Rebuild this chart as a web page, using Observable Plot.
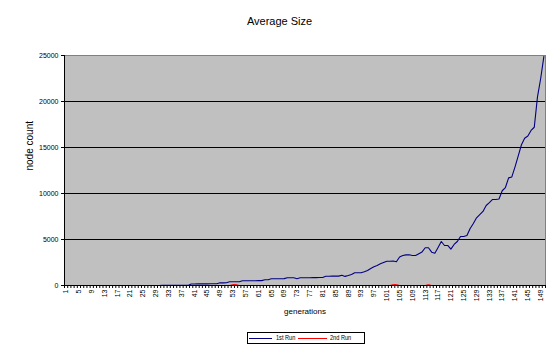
<!DOCTYPE html>
<html>
<head>
<meta charset="utf-8">
<script src="https://cdn.jsdelivr.net/npm/d3@7"></script>
<script src="https://cdn.jsdelivr.net/npm/@observablehq/plot@0.6"></script>
<style>
  html, body { margin: 0; padding: 0; background: #fff; }
  #wrap { position: relative; width: 559px; height: 355px; overflow: hidden; font-family: Arial, "Liberation Sans", sans-serif; }
  #title { position: absolute; left: 0; top: 15px; width: 559px; text-align: center; font-size: 11px; line-height: 12px; color: #000; }
  #legend { position: absolute; left: 247px; top: 332px; width: 116px; height: 10px; border: 1px solid #000; background: #fff; }
  #legend .sw { position: absolute; top: 4.5px; height: 1px; }
  #legend .lt { position: absolute; top: 0px; font-size: 7px; line-height: 10px; color: #000; white-space: nowrap; transform: scaleX(0.8); transform-origin: 0 50%; }
  #chart svg { display: block; }
</style>
</head>
<body>
<div id="wrap">
  <div id="chart"></div>
  <div id="title"></div>
  <div id="legend"></div>
</div>
<script>
// ---- data ----
const chartTitle = "Average Size";
const yLabel = "node count";
const xLabel = "generations";
const seriesNames = ["1st Run", "2nd Run"];
const seriesColors = ["#000080", "#ff0000"];

const generations = [
  1,2,3,4,5,6,7,8,9,10,11,12,13,14,15,16,17,18,19,20,
  21,22,23,24,25,26,27,28,29,30,31,32,33,34,35,36,37,38,39,40,
  41,42,43,44,45,46,47,48,49,50,51,52,53,54,55,56,57,58,59,60,
  61,62,63,64,65,66,67,68,69,70,71,72,73,74,75,76,77,78,79,80,
  81,82,83,84,85,86,87,88,89,90,91,92,93,94,95,96,97,98,99,100,
  101,102,103,104,105,106,107,108,109,110,111,112,113,114,115,116,117,118,119,120,
  121,122,123,124,125,126,127,128,129,130,131,132,133,134,135,136,137,138,139,140,
  141,142,143,144,145,146,147,148,149,150
];

const run1 = [
  2,2,3,3,3,3,4,4,4,4,5,5,5,5,5,6,6,6,6,6,
  7,7,7,7,7,8,8,8,8,8,9,9,9,9,10,10,10,10,12,170,
  170,175,175,180,180,185,185,190,290,290,300,400,400,410,410,510,510,515,520,520,
  525,530,620,630,730,730,735,740,745,840,840,845,740,840,845,850,850,855,860,865,
  870,1010,1010,1015,1020,1020,1120,990,1090,1200,1380,1380,1390,1490,1630,1850,2030,2170,2360,2500,
  2640,2640,2660,2580,3100,3260,3330,3340,3260,3260,3450,3650,4100,4100,3620,3510,4130,4780,4350,4350,
  3950,4460,4780,5330,5330,5440,6200,6740,7360,7700,8050,8700,9000,9350,9350,9400,10300,10650,11700,11800,
  12900,14100,15300,16000,16250,16850,17200,20500,22500,24900
];

const run2 = [
  0,0,0,0,0,0,0,0,0,0,0,0,0,0,0,0,0,0,0,0,
  0,0,0,0,0,0,0,0,0,0,0,0,0,0,0,0,0,0,0,0,
  0,0,0,0,0,0,0,0,0,0,0,0,100,100,0,0,0,0,0,0,
  0,0,0,0,0,0,0,0,0,0,0,0,0,0,0,0,0,0,0,0,
  0,0,0,0,0,0,0,0,0,0,0,0,0,0,0,0,0,0,0,0,
  0,0,100,100,0,0,0,0,0,0,0,0,0,100,0,0,0,0,0,0,
  0,0,0,0,0,0,0,0,0,0,0,0,0,0,0,0,0,0,0,0,
  0,0,0,0,0,0,0,0,0,0
];

const yTicks = [0, 5000, 10000, 15000, 20000, 25000];
const gridLines = [5000, 10000, 15000, 20000];
const xTickLabels = [1,5,9,13,17,21,25,29,33,37,41,45,49,53,57,61,65,69,73,77,81,85,89,93,97,101,105,109,113,117,121,125,129,133,137,141,145,149];

// ---- build ----
const rows1 = generations.map((g, i) => ({gen: g, value: run1[i]}));
const rows2 = generations.map((g, i) => ({gen: g, value: run2[i]}));
// category boundaries for tick marks
const boundaries = [generations[0] - 0.5].concat(generations.map(g => g + 0.5));
const xDomain = [generations[0] - 0.5, generations[generations.length - 1] + 0.5];

const chart = Plot.plot({
  width: 559,
  height: 355,
  marginLeft: 64,
  marginRight: 14,
  marginTop: 55,
  marginBottom: 70,
  style: {fontFamily: "Arial, 'Liberation Sans', sans-serif", fontSize: "7px", background: "white", color: "black", overflow: "visible"},
  x: {type: "linear", domain: xDomain},
  y: {domain: [0, 25000]},
  marks: [
    Plot.frame({fill: "#c0c0c0", stroke: "#808080", shapeRendering: "crispEdges"}),
    Plot.ruleY(gridLines, {stroke: "#000", strokeWidth: 1, shapeRendering: "crispEdges"}),
    Plot.line(rows2, {x: "gen", y: "value", stroke: seriesColors[1], strokeWidth: 1}),
    Plot.line(rows1, {x: "gen", y: "value", stroke: seriesColors[0], strokeWidth: 1.1}),
    Plot.ruleY([0], {stroke: "#000", strokeWidth: 1, shapeRendering: "crispEdges"}),
    Plot.ruleX([xDomain[0]], {stroke: "#000", strokeWidth: 1, shapeRendering: "crispEdges"}),
    Plot.axisY({ticks: yTicks, tickSize: 3, tickPadding: 3, label: null, fontSize: 7, tickFormat: d => String(d)}),
    Plot.axisX({ticks: boundaries, tickSize: 3, tickFormat: () => "", label: null}),
    Plot.axisX({ticks: xTickLabels, tickSize: 0, tickPadding: 4, tickRotate: -90, label: null, fontSize: 7, tickFormat: d => String(d)}),
    Plot.text([yLabel], {frameAnchor: "left", dx: -35, rotate: -90, fontSize: 10}),
    Plot.text([xLabel], {frameAnchor: "bottom", dy: 28, fontSize: 8})
  ]
});
document.getElementById("chart").appendChild(chart);
document.getElementById("title").textContent = chartTitle;

// legend
const legend = document.getElementById("legend");
const swatchPos = [{left: 1, width: 23, text: 28}, {left: 50, width: 29, text: 82}];
seriesNames.forEach((name, i) => {
  const sw = document.createElement("div");
  sw.className = "sw";
  sw.style.left = swatchPos[i].left + "px";
  sw.style.width = swatchPos[i].width + "px";
  sw.style.background = seriesColors[i];
  legend.appendChild(sw);
  const t = document.createElement("div");
  t.className = "lt";
  t.style.left = swatchPos[i].text + "px";
  t.textContent = name;
  legend.appendChild(t);
});
</script>
</body>
</html>
